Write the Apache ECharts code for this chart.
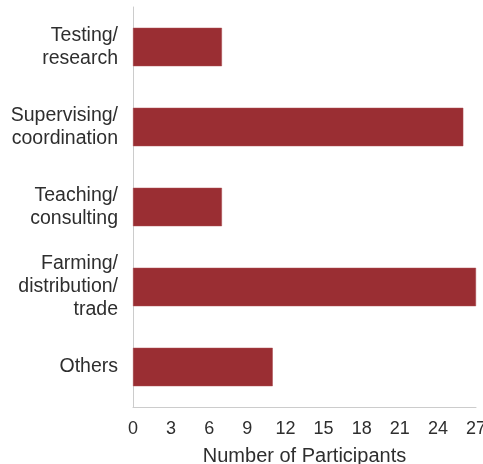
<!DOCTYPE html>
<html>
<head>
<meta charset="utf-8">
<script src="https://cdn.jsdelivr.net/npm/echarts@6/dist/echarts.min.js"></script>
<style>
  html, body { margin: 0; padding: 0; background: #fff; }
  #chart { width: 483px; height: 464px; }
</style>
</head>
<body>
<div id="chart"></div>
<script>
// categories top -> bottom as drawn
const categories = [
  'Testing/\nresearch',
  'Supervising/\ncoordination',
  'Teaching/\nconsulting',
  'Farming/\ndistribution/\ntrade',
  'Others'
]
const participants = [7, 26, 7, 27, 11]
const xTicks = { min: 0, max: 27, interval: 3 }

const textColor = '#2e2e2e'
const lineColor = '#cccccc'
const font = 'Liberation Sans, Arial, sans-serif'

const chart = echarts.init(document.getElementById('chart'))
chart.setOption({
  animation: false,
  backgroundColor: '#fff',
  grid: {
    left: 133,
    right: 7,
    top: 7,
    bottom: 57,
    outerBoundsMode: 'none'
  },
  xAxis: {
    type: 'value',
    min: xTicks.min,
    max: xTicks.max,
    interval: xTicks.interval,
    name: 'Number of Participants',
    nameLocation: 'middle',
    nameGap: 39,
    nameTextStyle: { color: textColor, fontSize: 20, fontFamily: font },
    axisLine: { show: true, lineStyle: { color: lineColor, width: 1 } },
    axisTick: { show: false },
    splitLine: { show: false },
    axisLabel: {
      color: textColor,
      fontSize: 18,
      fontFamily: font,
      margin: 13,
      showMaxLabel: true
    }
  },
  yAxis: {
    type: 'category',
    inverse: true,
    data: categories,
    axisLine: { show: true, lineStyle: { color: lineColor, width: 1 } },
    axisTick: { show: false },
    splitLine: { show: false },
    axisLabel: {
      color: textColor,
      fontSize: 19.5,
      fontFamily: font,
      lineHeight: 23,
      margin: 15,
      padding: [-6, 0, 0, 0],
      align: 'right'
    }
  },
  series: [
    {
      type: 'bar',
      data: participants,
      barWidth: '48%',
      itemStyle: {
        color: '#9a2e33',
        borderColor: '#a84a4e',
        borderWidth: 0.5
      }
    }
  ]
})
</script>
</body>
</html>
